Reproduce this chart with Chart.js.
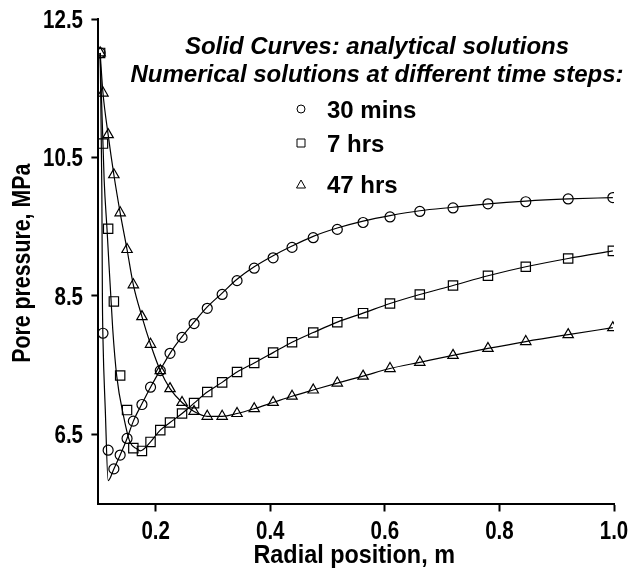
<!DOCTYPE html>
<html lang="en">
<head>
<meta charset="UTF-8">
<title>Pore pressure vs radial position</title>
<script src="https://cdn.jsdelivr.net/npm/chart.js"></script>
<style>
  body { margin: 0; background: #fff; }
  #wrap { width: 632px; height: 575px; }
</style>
</head>
<body>
<div id="wrap"><canvas id="poreChart" width="632" height="575"></canvas></div>
<script>
// radial position of the numerical nodes, m
const radialPos = [0.103, 0.108, 0.117, 0.127, 0.138, 0.150, 0.161, 0.176, 0.191, 0.208,
                   0.225, 0.246, 0.267, 0.290, 0.316, 0.342, 0.372, 0.405, 0.438, 0.475,
                   0.517, 0.562, 0.609, 0.661, 0.719, 0.780, 0.846, 0.920, 0.998];

// numerical solutions (markers), MPa
const num30min = [12.01, 7.96, 6.27, 6.00, 6.20, 6.44, 6.69, 6.93, 7.18, 7.42,
                  7.67, 7.90, 8.10, 8.32, 8.52, 8.72, 8.90, 9.05, 9.20, 9.34,
                  9.46, 9.56, 9.64, 9.72, 9.77, 9.83, 9.86, 9.90, 9.92];
const num7hrs = [12.01, 10.70, 9.47, 8.42, 7.35, 6.85, 6.30, 6.26, 6.39, 6.56,
                 6.67, 6.80, 6.95, 7.11, 7.25, 7.40, 7.53, 7.68, 7.83, 7.97,
                 8.12, 8.25, 8.39, 8.52, 8.65, 8.79, 8.92, 9.04, 9.15];
const num47hrs = [12.01, 11.43, 10.83, 10.25, 9.70, 9.17, 8.66, 8.20, 7.80, 7.42,
                  7.16, 6.96, 6.83, 6.76, 6.76, 6.80, 6.87, 6.96, 7.05, 7.14,
                  7.24, 7.34, 7.45, 7.54, 7.64, 7.74, 7.84, 7.94, 8.04];

// analytical solutions (solid curves)
const ana30X = [0.103, 0.106, 0.107, 0.108, 0.112, 0.117, 0.127, 0.138, 0.150, 0.161,
                0.176, 0.191, 0.208, 0.225, 0.246, 0.267, 0.290, 0.316, 0.342, 0.372,
                0.405, 0.438, 0.475, 0.517, 0.562, 0.609, 0.661, 0.719, 0.780, 0.846,
                0.920, 0.998];
const ana30Y = [12.01, 10.03, 8.45, 7.87, 6.86, 5.83, 6.00, 6.20, 6.44, 6.69,
                6.94, 7.18, 7.43, 7.67, 7.91, 8.12, 8.34, 8.54, 8.74, 8.92,
                9.08, 9.22, 9.36, 9.48, 9.58, 9.66, 9.73, 9.78, 9.83, 9.87,
                9.90, 9.92];
const ana7X = [0.103, 0.110, 0.115, 0.125, 0.132, 0.144, 0.155, 0.167, 0.173, 0.191,
               0.208, 0.225, 0.246, 0.267, 0.290, 0.316, 0.342, 0.372, 0.405, 0.438,
               0.475, 0.517, 0.562, 0.609, 0.661, 0.719, 0.780, 0.846, 0.920, 0.998];
const ana7Y = [12.01, 10.18, 9.47, 8.02, 7.34, 6.76, 6.39, 6.29, 6.26, 6.39,
               6.56, 6.67, 6.80, 6.95, 7.11, 7.25, 7.40, 7.53, 7.68, 7.83,
               7.97, 8.12, 8.25, 8.39, 8.52, 8.65, 8.79, 8.92, 9.04, 9.15];
const ana47Y = [12.01, 11.43, 10.83, 10.25, 9.70, 9.17, 8.66, 8.20, 7.80, 7.42,
                7.16, 6.96, 6.83, 6.76, 6.76, 6.80, 6.87, 6.96, 7.05, 7.14,
                7.24, 7.34, 7.45, 7.54, 7.64, 7.74, 7.84, 7.94, 8.04];

const xTicks = [0.2, 0.4, 0.6, 0.8, 1.0];
const yTicks = [6.5, 8.5, 10.5, 12.5];
const seriesNames = ['30 mins', '7 hrs', '47 hrs'];
const noteLines = ['Solid Curves: analytical solutions',
                   'Numerical solutions at different time steps:'];
const xTitle = 'Radial position, m';
const yTitle = 'Pore pressure, MPa';

function pts(xs, ys) {
    return xs.map((x, i) => ({ x: x, y: ys[i] }));
}

function markerSet(label, ys, style, r) {
    return {
        label: label,
        data: pts(radialPos, ys),
        showLine: false,
        pointStyle: style,
        pointRadius: r,
        pointBorderWidth: 1.2,
        pointBorderColor: '#000',
        pointBackgroundColor: 'rgba(0,0,0,0)',
        order: 0
    };
}

function curveSet(xs, ys) {
    return {
        data: pts(xs, ys),
        showLine: true,
        borderColor: '#000',
        borderWidth: 1.2,
        pointRadius: 0,
        cubicInterpolationMode: 'monotone',
        fill: false,
        order: 1
    };
}

// axis text in the picture is tall and narrow: draw it squeezed sideways
function narrowText(ctx, text, x, y, squeeze, angle) {
    ctx.save();
    ctx.translate(x, y);
    if (angle) ctx.rotate(angle);
    ctx.scale(squeeze, 1);
    ctx.fillText(text, 0, 0);
    ctx.restore();
}

const axisTextPlugin = {
    id: 'axisText',
    afterDraw(chart) {
        const ctx = chart.ctx;
        const xs = chart.scales.x, ys = chart.scales.y;
        ctx.save();
        ctx.fillStyle = '#000';
        ctx.textBaseline = 'alphabetic';

        ctx.font = 'bold 25px "Liberation Sans", Arial, sans-serif';
        ctx.textAlign = 'center';
        xTicks.forEach(v => narrowText(ctx, v.toFixed(1), xs.getPixelForValue(v), 539, 0.82));
        ctx.textAlign = 'right';
        yTicks.forEach(v => narrowText(ctx, v.toFixed(1), 83, ys.getPixelForValue(v) + 9, 0.82));

        ctx.font = 'bold 26px "Liberation Sans", Arial, sans-serif';
        ctx.textAlign = 'center';
        narrowText(ctx, xTitle, (xs.left + xs.right) / 2 - 2, 563, 0.9);
        narrowText(ctx, yTitle, 30, (ys.top + ys.bottom) / 2 + 2, 0.82, -Math.PI / 2);
        ctx.restore();
    }
};

// the text block and hand-made legend at the top
const notePlugin = {
    id: 'notes',
    afterDraw(chart) {
        const ctx = chart.ctx;
        ctx.save();
        ctx.fillStyle = '#000';
        ctx.strokeStyle = '#000';
        ctx.lineWidth = 1;
        ctx.textBaseline = 'alphabetic';
        ctx.textAlign = 'center';
        ctx.font = 'italic bold 24px "Liberation Sans", Arial, sans-serif';
        ctx.fillText(noteLines[0], 377, 54);
        ctx.fillText(noteLines[1], 377, 82);

        ctx.textAlign = 'left';
        ctx.font = 'bold 24px "Liberation Sans", Arial, sans-serif';
        const rows = [{ y: 109, base: 118 }, { y: 143, base: 152 }, { y: 185, base: 193 }];
        rows.forEach((row, i) => {
            const mx = 301;
            ctx.beginPath();
            if (i === 0) {
                ctx.arc(mx, row.y, 4, 0, Math.PI * 2);
            } else if (i === 1) {
                ctx.rect(mx - 4, row.y - 4, 8, 8);
            } else {
                ctx.moveTo(mx, row.y - 5);
                ctx.lineTo(mx + 4.5, row.y + 3);
                ctx.lineTo(mx - 4.5, row.y + 3);
                ctx.closePath();
            }
            ctx.stroke();
            ctx.fillText(seriesNames[i], 327, row.base);
        });
        ctx.restore();
    }
};

const ctx = document.getElementById('poreChart').getContext('2d');
new Chart(ctx, {
    type: 'scatter',
    data: {
        datasets: [
            markerSet(seriesNames[0], num30min, 'circle', 5),
            markerSet(seriesNames[1], num7hrs, 'rect', 6.6),
            markerSet(seriesNames[2], num47hrs, 'triangle', 6),
            curveSet(ana30X, ana30Y),
            curveSet(ana7X, ana7Y),
            curveSet(radialPos, ana47Y)
        ]
    },
    options: {
        responsive: false,
        animation: false,
        devicePixelRatio: 1,
        layout: { padding: { left: 0, right: 18, top: 19, bottom: 0 } },
        plugins: {
            legend: { display: false },
            tooltip: { enabled: false }
        },
        scales: {
            x: {
                type: 'linear',
                min: 0.1,
                max: 1.0,
                afterBuildTicks: (axis) => { axis.ticks = xTicks.map(v => ({ value: v })); },
                afterFit: (axis) => { axis.height = 71.5; },
                border: { display: true, color: '#000', width: 2 },
                grid: { display: true, drawOnChartArea: false, drawTicks: true, tickLength: 8, color: '#000', tickWidth: 2 },
                ticks: { display: false }
            },
            y: {
                type: 'linear',
                min: 5.5,
                max: 12.5,
                afterBuildTicks: (axis) => { axis.ticks = yTicks.map(v => ({ value: v })); },
                afterFit: (axis) => { axis.width = 98.4; },
                border: { display: true, color: '#000', width: 2 },
                grid: { display: true, drawOnChartArea: false, drawTicks: true, tickLength: 7, color: '#000', tickWidth: 2 },
                ticks: { display: false }
            }
        }
    },
    plugins: [axisTextPlugin, notePlugin]
});
</script>
</body>
</html>
